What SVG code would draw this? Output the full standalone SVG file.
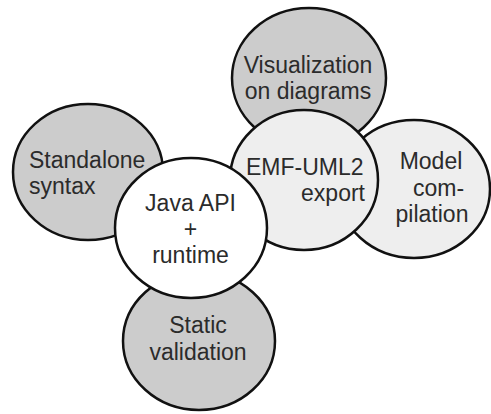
<svg xmlns="http://www.w3.org/2000/svg" width="491" height="414" viewBox="0 0 491 414">
  <style>
    .bubble { stroke: #111; stroke-width: 2.5; }
    .dark { fill: #cccccc; }
    .light { fill: #eeeeee; }
    .core { fill: #ffffff; }
    text { font-family: "Liberation Sans", Arial, sans-serif; font-size: 23px; fill: #2b2b2b; }
    .mid { text-anchor: middle; }
  </style>
  <rect width="491" height="414" fill="#ffffff"/>

  <g id="visualization">
    <ellipse class="bubble dark" cx="309" cy="78" rx="77" ry="70"/>
    <text class="mid" x="308" y="73">Visualization</text>
    <text class="mid" x="308" y="99">on diagrams</text>
  </g>

  <g id="model-compilation">
    <ellipse class="bubble light" cx="414" cy="189" rx="76" ry="69"/>
    <text class="mid" x="431" y="169">Model</text>
    <text class="mid" x="438.5" y="196">com-</text>
    <text class="mid" x="432" y="222">pilation</text>
  </g>

  <g id="emf-uml2">
    <ellipse class="bubble light" cx="304" cy="180" rx="74" ry="70"/>
    <text x="246" y="175">EMF-UML2</text>
    <text x="365" y="201" text-anchor="end">export</text>
  </g>

  <g id="standalone">
    <ellipse class="bubble dark" cx="88" cy="172" rx="75" ry="68"/>
    <text x="29" y="168">Standalone</text>
    <text x="29" y="194">syntax</text>
  </g>

  <g id="static-validation">
    <ellipse class="bubble dark" cx="199" cy="341" rx="76" ry="69"/>
    <text class="mid" x="198" y="333">Static</text>
    <text class="mid" x="198" y="360">validation</text>
  </g>

  <g id="java-api">
    <ellipse class="bubble core" cx="191" cy="228" rx="76" ry="70"/>
    <text class="mid" x="190.5" y="211">Java API</text>
    <text class="mid" x="190.5" y="237">+</text>
    <text class="mid" x="190.5" y="263">runtime</text>
  </g>

  <g id="connectors"/>
</svg>
